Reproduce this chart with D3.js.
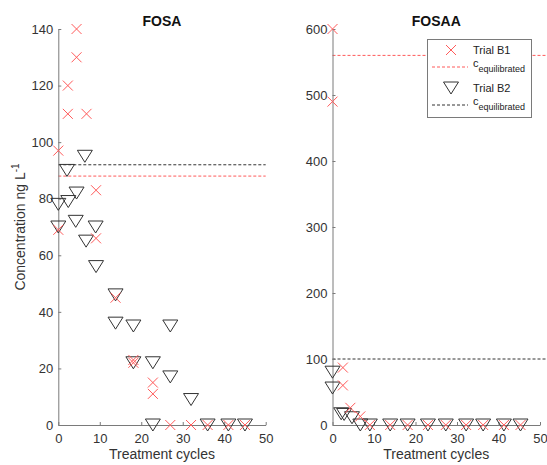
<!DOCTYPE html>
<html>
<head>
<meta charset="utf-8">
<script src="https://cdn.jsdelivr.net/npm/d3@7"></script>
<style>
  body { margin: 0; background: #fff; }
  text { font-family: "Liberation Sans", Arial, sans-serif; }
</style>
</head>
<body>
<div id="container"></div>
<script>
// FOSA, trial B1 (red crosses)
const fosaB1Cycles = [0, 0, 2.3, 2.3, 4.4, 4.4, 6.8, 9.1, 9.1, 13.8, 18.1, 18.1, 22.8, 22.8, 27, 32, 36, 41, 45];
const fosaB1Conc   = [97, 69, 120, 110, 140, 130, 110, 83, 66, 45, 23, 22, 15, 11, 0, 0, 0, 0, 0];
// FOSA, trial B2 (triangles)
const fosaB2Cycles = [0, 0, 2.1, 2.4, 4.4, 4.2, 6.4, 6.7, 9, 9.1, 13.8, 13.8, 18.1, 18.1, 22.8, 27, 27, 32, 22.8, 36, 41, 45];
const fosaB2Conc   = [78, 70, 90, 79, 82, 72, 95, 65, 70, 56, 46, 36, 35, 22, 22, 35, 17, 9, 0, 0, 0, 0];
// FOSAA
const fosaaB1Cycles = [0, 0, 2.5, 2.5, 4.3, 6.7, 9, 13.9, 18.1, 23, 27.3, 32.2, 36.3, 41.3, 45.3];
const fosaaB1Conc   = [600, 490, 87, 60, 26, 13, 0, 0, 0, 0, 0, 0, 0, 0, 0];
const fosaaB2Cycles = [0, 0, 2.1, 2.8, 4.7, 6.7, 9, 13.9, 18.1, 23, 27.3, 32.2, 36.3, 41.3, 45.3];
const fosaaB2Conc   = [80, 56, 17, 16, 11, 0, 0, 0, 0, 0, 0, 0, 0, 0, 0];
// equilibrated concentrations [B1, B2]
const fosaEq  = [88, 92];
const fosaaEq = [560, 100];
const xTicks = [0, 10, 20, 30, 40, 50];

const w = 547, h = 465;
const red = "#ff5a5a", dark = "#333";
const plotTop = 29, plotBottom = 425;

const svg = d3.select("#container").append("svg")
  .attr("width", w).attr("height", h);

const panels = [
  { title: "FOSA", left: 58.3, right: 265.7, yMax: 140, yTicks: d3.range(0, 141, 20),
    b1t: fosaB1Cycles, b1c: fosaB1Conc, b2t: fosaB2Cycles, b2c: fosaB2Conc, eq: fosaEq, lineEnd: 265.7 },
  { title: "FOSAA", left: 332.5, right: 540, yMax: 600, yTicks: d3.range(0, 601, 100),
    b1t: fosaaB1Cycles, b1c: fosaaB1Conc, b2t: fosaaB2Cycles, b2c: fosaaB2Conc, eq: fosaaEq, lineEnd: 547 }
];

function cross(g, cx, cy) {
  const s = 5;
  g.append("path")
    .attr("d", `M${cx - s},${cy - s}L${cx + s},${cy + s}M${cx - s},${cy + s}L${cx + s},${cy - s}`)
    .attr("stroke", red).attr("stroke-width", 1).attr("fill", "none");
}
function tri(g, cx, cy) {
  const hw = 7.5, hh = 6;
  g.append("path")
    .attr("d", `M${cx - hw},${cy - hh}L${cx + hw},${cy - hh}L${cx},${cy + hh}Z`)
    .attr("stroke", dark).attr("stroke-width", 1).attr("fill", "none");
}

panels.forEach((p, i) => {
  const x = d3.scaleLinear().domain([0, 50]).range([p.left, p.right]);
  const y = d3.scaleLinear().domain([0, p.yMax]).range([plotBottom, plotTop]);
  const g = svg.append("g");

  // equilibrated lines
  g.append("line").attr("x1", x(0)).attr("x2", p.lineEnd)
    .attr("y1", y(p.eq[0])).attr("y2", y(p.eq[0]))
    .attr("stroke", red).attr("stroke-dasharray", "3,2");
  g.append("line").attr("x1", x(0)).attr("x2", p.lineEnd)
    .attr("y1", y(p.eq[1])).attr("y2", y(p.eq[1]))
    .attr("stroke", dark).attr("stroke-dasharray", "3,2");

  const xAxis = d3.axisBottom(x).tickValues(xTicks).tickSizeInner(-3).tickSizeOuter(0).tickPadding(9);
  const yAxis = d3.axisLeft(y).tickValues(p.yTicks).tickSizeInner(-3).tickSizeOuter(0).tickPadding(5);
  [g.append("g").attr("transform", `translate(0,${plotBottom})`).call(xAxis),
   g.append("g").attr("transform", `translate(${p.left},0)`).call(yAxis)]
    .forEach(a => {
      a.selectAll("path, line").attr("stroke", "#7a7a7a");
      a.selectAll("text").attr("fill", "#333").style("font-size", "13px")
        .style("font-family", '"Liberation Sans", Arial, sans-serif');
    });

  // markers
  p.b2t.forEach((t, k) => tri(g, x(t), y(p.b2c[k])));
  p.b1t.forEach((t, k) => cross(g, x(t), y(p.b1c[k])));

  g.append("text").attr("x", (p.left + p.right) / 2).attr("y", 26)
    .attr("text-anchor", "middle").style("font-size", "14px").style("font-weight", "bold")
    .attr("fill", "#111").text(p.title);
  g.append("text").attr("x", (p.left + p.right) / 2).attr("y", 459)
    .attr("text-anchor", "middle").style("font-size", "14px")
    .attr("fill", "#333").text("Treatment cycles");
});

// y label
const yl = svg.append("text")
  .attr("transform", "translate(25," + ((plotTop + plotBottom) / 2) + ") rotate(-90)")
  .attr("text-anchor", "middle").style("font-size", "14px").attr("fill", "#333");
yl.append("tspan").text("Concentration ng L");
yl.append("tspan").attr("dy", -6).style("font-size", "10px").text("-1");

// legend
const lg = svg.append("g");
lg.append("rect").attr("x", 427.5).attr("y", 39.5).attr("width", 104).attr("height", 78)
  .attr("fill", "#fff").attr("stroke", "#7a7a7a");
cross(lg, 451, 50);
tri(lg, 451, 88);
lg.append("line").attr("x1", 432).attr("x2", 468).attr("y1", 67).attr("y2", 67)
  .attr("stroke", red).attr("stroke-dasharray", "3,2");
lg.append("line").attr("x1", 432).attr("x2", 468).attr("y1", 105).attr("y2", 105)
  .attr("stroke", dark).attr("stroke-dasharray", "3,2");
[["Trial B1", 54], ["Trial B2", 92]].forEach(d => {
  lg.append("text").attr("x", 473).attr("y", d[1]).style("font-size", "11px")
    .attr("fill", "#222").text(d[0]);
});
[67, 105].forEach(yy => {
  const t = lg.append("text").attr("x", 473).attr("y", yy).style("font-size", "11px").attr("fill", "#222");
  t.append("tspan").text("c");
  t.append("tspan").attr("dy", 5).style("font-size", "9px").text("equilibrated");
});
</script>
</body>
</html>
